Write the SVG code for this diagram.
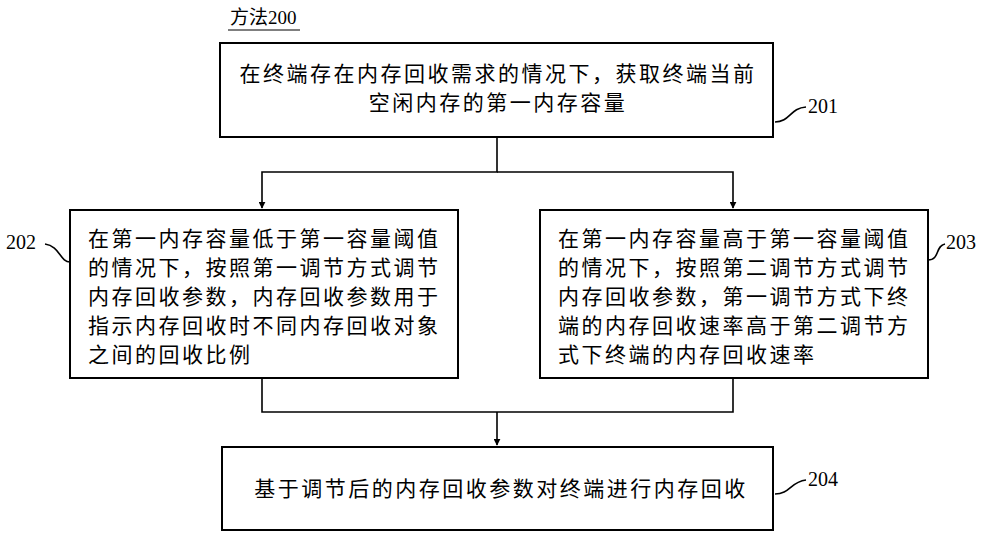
<svg xmlns="http://www.w3.org/2000/svg" width="1000" height="538" viewBox="0 0 1000 538">
<defs>
<style>
.b{fill:#fff;stroke:#000;stroke-width:2}
.l{fill:none;stroke:#000;stroke-width:1.6}
text{font-family:"Liberation Serif","Noto Sans CJK SC",serif;font-size:21px;letter-spacing:2.5px;fill:#000}
.n{font-size:20px;letter-spacing:0}
</style>
<marker id="a" viewBox="0 0 10 10" refX="9" refY="5" markerWidth="7" markerHeight="7" orient="auto" markerUnits="userSpaceOnUse">
<path d="M0,0L10,5L0,10z" fill="#000"/>
</marker>
</defs>
<rect width="1000" height="538" fill="#fff"/>
<g id="title"><text x="230" y="24" style="font-size:19px;letter-spacing:0">方法200</text><line x1="228" y1="30" x2="300" y2="30" stroke="#000" stroke-width="1.2"/></g>
<g id="connectors">
<path class="l" d="M497,137V172H262V208" marker-end="url(#a)"/>
<path class="l" d="M497,172H733V208" marker-end="url(#a)"/>
<path class="l" d="M262,378V412H733V378"/>
<path class="l" d="M497,412V445" marker-end="url(#a)"/>
<path class="l" d="M775,122C790,122 790,108 806,107"/>
<path class="l" d="M45,244C60,246 60,262 70,262"/>
<path class="l" d="M928,260C940,260 935,246 945,244"/>
<path class="l" d="M775,494C790,494 790,482 806,480"/>
</g>
<g id="n201"><rect class="b" x="220" y="43" width="553" height="94"/>
<text x="498" y="81" text-anchor="middle">在终端存在内存回收需求的情况下，获取终端当前</text>
<text x="498" y="110" text-anchor="middle">空闲内存的第一内存容量</text>
<text class="n" x="808" y="113">201</text></g>
<g id="n202"><rect class="b" x="70" y="210" width="388" height="168"/>
<text x="88" y="246">在第一内存容量低于第一容量阈值</text>
<text x="88" y="275">的情况下，按照第一调节方式调节</text>
<text x="88" y="304">内存回收参数，内存回收参数用于</text>
<text x="88" y="333">指示内存回收时不同内存回收对象</text>
<text x="88" y="362">之间的回收比例</text>
<text class="n" x="6" y="249">202</text></g>
<g id="n203"><rect class="b" x="540" y="210" width="388" height="168"/>
<text x="558" y="246">在第一内存容量高于第一容量阈值</text>
<text x="558" y="275">的情况下，按照第二调节方式调节</text>
<text x="558" y="304">内存回收参数，第一调节方式下终</text>
<text x="558" y="333">端的内存回收速率高于第二调节方</text>
<text x="558" y="362">式下终端的内存回收速率</text>
<text class="n" x="946" y="249">203</text></g>
<g id="n204"><rect class="b" x="222" y="447" width="551" height="83"/>
<text x="501" y="496" text-anchor="middle">基于调节后的内存回收参数对终端进行内存回收</text>
<text class="n" x="808" y="486">204</text></g>
</svg>
